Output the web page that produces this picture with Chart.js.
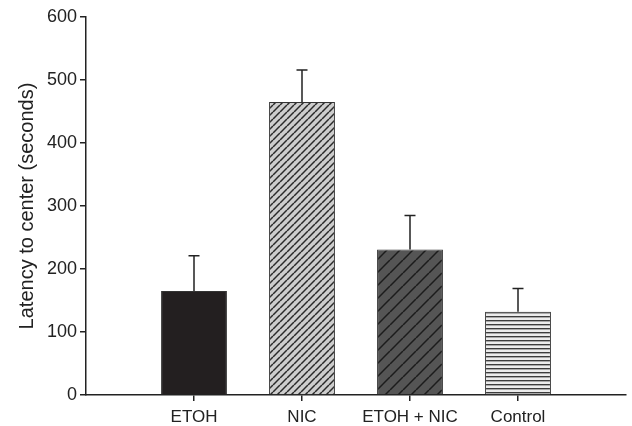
<!DOCTYPE html>
<html>
<head>
<meta charset="utf-8">
<script src="https://cdn.jsdelivr.net/npm/chart.js@4.4.0/dist/chart.umd.min.js"></script>
<style>
  html, body { margin: 0; padding: 0; background: #fff; }
  #wrap { width: 632px; height: 426px; }
</style>
</head>
<body>
<div id="wrap"><canvas id="barChart" width="632" height="426"></canvas></div>
<script>
var categories = ['ETOH', 'NIC', 'ETOH + NIC', 'Control'];
var means = [165, 465, 231, 132];
var errTop = [221, 516, 285, 169];
var yTicks = [0, 100, 200, 300, 400, 500, 600];

// hatch fills
function diagPattern(bg, line, step, lw) {
  var c = document.createElement('canvas');
  c.width = step; c.height = step;
  var g = c.getContext('2d');
  g.fillStyle = bg;
  g.fillRect(0, 0, step, step);
  g.strokeStyle = line;
  g.lineWidth = lw;
  [-step, 0, step].forEach(function(k) {
    g.beginPath();
    g.moveTo(k, step);
    g.lineTo(k + step, 0);
    g.stroke();
  });
  return g.createPattern(c, 'repeat');
}

function stripePattern() {
  var c = document.createElement('canvas');
  c.width = 4; c.height = 4;
  var g = c.getContext('2d');
  g.fillStyle = '#ececec'; g.fillRect(0, 0, 4, 4);
  g.fillStyle = '#3c3c3c'; g.fillRect(0, 0, 4, 1);
  g.fillStyle = '#a8a8a8'; g.fillRect(0, 1, 4, 1);
  return g.createPattern(c, 'repeat');
}

var fills = [
  '#231f20',
  diagPattern('#cdcdcd', '#2a2a2a', 7, 1.5),
  diagPattern('#555555', '#1c1c1c', 13, 1.5),
  stripePattern()
];

var labels = [''].concat(categories, ['']);
var values = [null].concat(means, [null]);
var bgs = ['#fff'].concat(fills, ['#fff']);

var errorBars = {
  id: 'errorBars',
  afterDatasetsDraw: function(chart) {
    var meta = chart.getDatasetMeta(0);
    var y = chart.scales.y;
    var c = chart.ctx;
    c.save();
    c.strokeStyle = '#222';
    c.lineWidth = 1.5;
    errTop.forEach(function(v, i) {
      var bar = meta.data[i + 1];
      var yt = y.getPixelForValue(v);
      c.beginPath();
      c.moveTo(bar.x, bar.y);
      c.lineTo(bar.x, yt);
      c.moveTo(bar.x - 5.5, yt);
      c.lineTo(bar.x + 5.5, yt);
      c.stroke();
    });
    c.restore();
  }
};

var ctx = document.getElementById('barChart').getContext('2d');
var barChart = new Chart(ctx, {
  type: 'bar',
  data: {
    labels: labels,
    datasets: [{
      data: values,
      backgroundColor: bgs,
      borderColor: '#333',
      borderWidth: 1,
      categoryPercentage: 1,
      barPercentage: 0.61
    }]
  },
  options: {
    responsive: false,
    animation: false,
    layout: { padding: { left: 1, top: 17, right: 3, bottom: 0 } },
    plugins: {
      legend: { display: false },
      tooltip: { enabled: false }
    },
    scales: {
      x: {
        offset: false,
        afterFit: function(s) { s.height = 31; },
        border: { display: true, color: '#222', width: 1.5 },
        grid: {
          offset: false,
          drawOnChartArea: false,
          tickLength: 6,
          color: function(c) {
            return (c.index === 0 || c.index === labels.length - 1) ? 'rgba(0,0,0,0)' : '#222';
          },
          lineWidth: 1.5
        },
        ticks: {
          color: '#222',
          font: { family: '"Liberation Sans", Arial, sans-serif', size: 17 },
          padding: 6,
          maxRotation: 0,
          autoSkip: false
        }
      },
      y: {
        min: 0,
        max: 600,
        afterFit: function(s) { s.width = 85; },
        afterBuildTicks: function(s) {
          s.ticks = yTicks.map(function(v) { return { value: v }; });
        },
        border: { display: true, color: '#222', width: 1.5 },
        grid: { drawOnChartArea: false, tickLength: 6, color: '#222', lineWidth: 1.5 },
        ticks: {
          color: '#222',
          font: { family: '"Liberation Sans", Arial, sans-serif', size: 18 },
          padding: 3
        },
        title: {
          display: true,
          text: 'Latency to center (seconds)',
          color: '#222',
          font: { family: '"Liberation Sans", Arial, sans-serif', size: 20 },
          padding: { top: 14, bottom: 0 }
        }
      }
    }
  },
  plugins: [errorBars]
});
</script>
</body>
</html>
